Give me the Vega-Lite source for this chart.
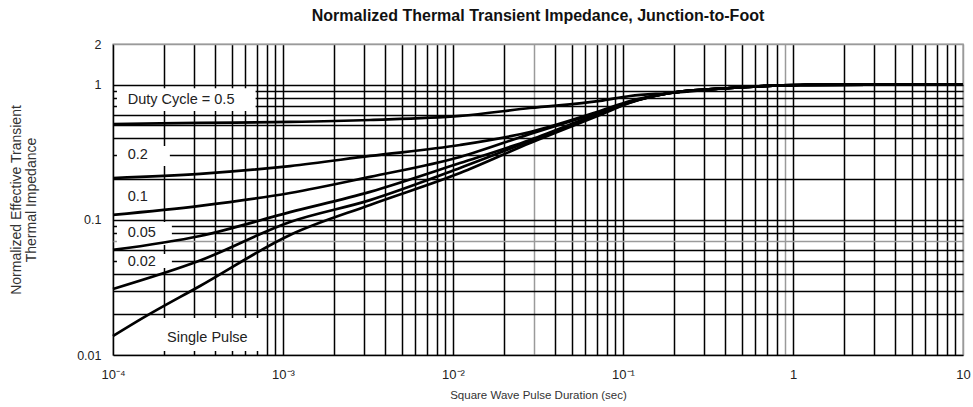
{
  "$schema": "https://vega.github.io/schema/vega-lite/v6.json",
  "width": 850,
  "height": 311,
  "autosize": "none",
  "padding": {"left": 113, "top": 44, "right": 10, "bottom": 52},
  "background": "white",
  "config": {
    "font": "Liberation Sans",
    "view": {"stroke": "#999999", "strokeWidth": 1.4},
    "axis": {
      "ticks": false,
      "domain": false,
      "grid": true,
      "gridWidth": 1.5,
      "gridOpacity": 1,
      "labelFont": "Liberation Sans",
      "labelFontSize": 12.5,
      "labelColor": "#222222",
      "labelOverlap": false,
      "labelBound": false,
      "labelFlush": false,
      "titleFont": "Liberation Sans",
      "titleFontWeight": "normal",
      "titleColor": "#333333"
    }
  },
  "title": {
    "text": "Normalized Thermal Transient Impedance, Junction-to-Foot",
    "fontSize": 16,
    "fontWeight": "bold",
    "font": "Liberation Sans",
    "color": "#111111",
    "anchor": "middle",
    "offset": 14
  },
  "datasets": {
    "curves": [
      {"s": "0.5", "x": 0.0001, "y": 0.512},
      {"s": "0.5", "x": 0.000325, "y": 0.521},
      {"s": "0.5", "x": 0.0011, "y": 0.53},
      {"s": "0.5", "x": 0.00325, "y": 0.548},
      {"s": "0.5", "x": 0.011, "y": 0.587},
      {"s": "0.5", "x": 0.0284, "y": 0.672},
      {"s": "0.5", "x": 0.0732, "y": 0.758},
      {"s": "0.5", "x": 0.11, "y": 0.825},
      {"s": "0.5", "x": 0.189, "y": 0.868},
      {"s": "0.5", "x": 0.426, "y": 0.945},
      {"s": "0.5", "x": 1.1, "y": 0.995},
      {"s": "0.5", "x": 2.84, "y": 1.0},
      {"s": "0.5", "x": 10, "y": 1.0},
      {"s": "0.2", "x": 0.0001, "y": 0.204},
      {"s": "0.2", "x": 0.000325, "y": 0.219},
      {"s": "0.2", "x": 0.0011, "y": 0.25},
      {"s": "0.2", "x": 0.00325, "y": 0.297},
      {"s": "0.2", "x": 0.011, "y": 0.358},
      {"s": "0.2", "x": 0.0284, "y": 0.447},
      {"s": "0.2", "x": 0.0732, "y": 0.639},
      {"s": "0.2", "x": 0.11, "y": 0.758},
      {"s": "0.2", "x": 0.189, "y": 0.868},
      {"s": "0.2", "x": 0.426, "y": 0.945},
      {"s": "0.2", "x": 1.1, "y": 0.995},
      {"s": "0.2", "x": 2.84, "y": 1.0},
      {"s": "0.2", "x": 10, "y": 1.0},
      {"s": "0.1", "x": 0.0001, "y": 0.109},
      {"s": "0.1", "x": 0.000325, "y": 0.127},
      {"s": "0.1", "x": 0.0011, "y": 0.158},
      {"s": "0.1", "x": 0.00325, "y": 0.208},
      {"s": "0.1", "x": 0.011, "y": 0.292},
      {"s": "0.1", "x": 0.0284, "y": 0.432},
      {"s": "0.1", "x": 0.0732, "y": 0.628},
      {"s": "0.1", "x": 0.11, "y": 0.745},
      {"s": "0.1", "x": 0.189, "y": 0.868},
      {"s": "0.1", "x": 0.426, "y": 0.945},
      {"s": "0.1", "x": 1.1, "y": 0.995},
      {"s": "0.1", "x": 2.84, "y": 1.0},
      {"s": "0.1", "x": 10, "y": 1.0},
      {"s": "0.05", "x": 0.0001, "y": 0.0599},
      {"s": "0.05", "x": 0.000325, "y": 0.076},
      {"s": "0.05", "x": 0.0011, "y": 0.114},
      {"s": "0.05", "x": 0.00325, "y": 0.161},
      {"s": "0.05", "x": 0.011, "y": 0.263},
      {"s": "0.05", "x": 0.0284, "y": 0.39},
      {"s": "0.05", "x": 0.0732, "y": 0.617},
      {"s": "0.05", "x": 0.11, "y": 0.745},
      {"s": "0.05", "x": 0.189, "y": 0.868},
      {"s": "0.05", "x": 0.426, "y": 0.945},
      {"s": "0.05", "x": 1.1, "y": 0.995},
      {"s": "0.05", "x": 2.84, "y": 1.0},
      {"s": "0.05", "x": 10, "y": 1.0},
      {"s": "0.02", "x": 0.0001, "y": 0.0308},
      {"s": "0.02", "x": 0.000325, "y": 0.05},
      {"s": "0.02", "x": 0.0011, "y": 0.0965},
      {"s": "0.02", "x": 0.00325, "y": 0.14},
      {"s": "0.02", "x": 0.011, "y": 0.242},
      {"s": "0.02", "x": 0.0284, "y": 0.383},
      {"s": "0.02", "x": 0.0732, "y": 0.607},
      {"s": "0.02", "x": 0.11, "y": 0.74},
      {"s": "0.02", "x": 0.189, "y": 0.868},
      {"s": "0.02", "x": 0.426, "y": 0.945},
      {"s": "0.02", "x": 1.1, "y": 0.995},
      {"s": "0.02", "x": 2.84, "y": 1.0},
      {"s": "0.02", "x": 10, "y": 1.0},
      {"s": "single", "x": 0.0001, "y": 0.0138},
      {"s": "single", "x": 0.00015, "y": 0.0188},
      {"s": "single", "x": 0.000325, "y": 0.0324},
      {"s": "single", "x": 0.0011, "y": 0.0773},
      {"s": "single", "x": 0.00325, "y": 0.129},
      {"s": "single", "x": 0.011, "y": 0.222},
      {"s": "single", "x": 0.0284, "y": 0.37},
      {"s": "single", "x": 0.0732, "y": 0.597},
      {"s": "single", "x": 0.11, "y": 0.735},
      {"s": "single", "x": 0.189, "y": 0.868},
      {"s": "single", "x": 0.426, "y": 0.945},
      {"s": "single", "x": 1.1, "y": 0.995},
      {"s": "single", "x": 2.84, "y": 1.0},
      {"s": "single", "x": 10, "y": 1.0}
    ],
    "boxes": [
      {"x": 0.0001055, "x2": 0.00069, "y": 0.64, "y2": 0.94},
      {"x": 0.0001055, "x2": 0.000216, "y": 0.25, "y2": 0.352},
      {"x": 0.0001055, "x2": 0.000222, "y": 0.0652, "y2": 0.0965},
      {"x": 0.0001055, "x2": 0.000222, "y": 0.044, "y2": 0.056},
      {"x": 0.000165, "x2": 0.00075, "y": 0.0107, "y2": 0.0188}
    ],
    "labels": [
      {"x": 0.000122, "y": 0.77, "label": "Duty Cycle = 0.5"},
      {"x": 0.000122, "y": 0.3, "label": "0.2"},
      {"x": 0.000122, "y": 0.148, "label": "0.1"},
      {"x": 0.000122, "y": 0.0804, "label": "0.05"},
      {"x": 0.000122, "y": 0.0491, "label": "0.02"},
      {"x": 0.000208, "y": 0.01345, "label": "Single Pulse"}
    ]
  },
  "encoding": {
    "x": {
      "field": "x",
      "type": "quantitative",
      "scale": {"type": "log", "domain": [0.0001, 10], "nice": false},
      "axis": {
        "title": "Square Wave Pulse Duration (sec)",
        "titleFontSize": 11.5,
        "labelFontSize": 13,
        "values": [0.0001,0.0002,0.0003,0.0004,0.0005,0.0006,0.0007,0.0008,0.0009,0.001,0.002,0.003,0.004,0.005,0.006,0.007,0.008,0.009,0.01,0.02,0.03,0.04,0.05,0.06,0.07,0.08,0.09,0.1,0.2,0.3,0.4,0.5,0.6,0.7,0.8,0.9,1,2,3,4,5,6,7,8,9,10],
        "labelExpr": "datum.value == 0.0001 ? '10⁻⁴' : datum.value == 0.001 ? '10⁻³' : datum.value == 0.01 ? '10⁻²' : datum.value == 0.1 ? '10⁻¹' : datum.value == 1 ? '1' : datum.value == 10 ? '10' : ''",
        "labelPadding": 13,
        "titlePadding": 8,
        "gridColor": {"condition": {"test": "datum.value >= 10 || datum.value == 0.03 || datum.value == 0.9", "value": "#9a9a9a"}, "value": "#000000"}
      }
    },
    "y": {
      "field": "y",
      "type": "quantitative",
      "scale": {"type": "log", "domain": [0.01, 2], "nice": false},
      "axis": {
        "title": ["Normalized Effective Transient", "Thermal Impedance"],
        "titleFontSize": 14,
        "titleLineHeight": 15,
        "values": [0.01,0.02,0.03,0.04,0.05,0.06,0.07,0.08,0.09,0.1,0.2,0.3,0.4,0.5,0.6,0.7,0.8,0.9,1,2],
        "labelExpr": "datum.value == 2 ? '2' : datum.value == 1 ? '1' : datum.value == 0.1 ? '0.1' : datum.value == 0.01 ? '0.01' : ''",
        "labelPadding": 12,
        "titlePadding": 38,
        "gridColor": {"condition": {"test": "datum.value >= 2 || datum.value == 0.07", "value": "#9a9a9a"}, "value": "#000000"}
      }
    }
  },
  "layer": [
    {
      "data": {"name": "boxes"},
      "mark": {"type": "rect", "fill": "white", "stroke": null},
      "encoding": {
        "x2": {"field": "x2"},
        "y2": {"field": "y2"}
      }
    },
    {
      "data": {"name": "curves"},
      "mark": {"type": "line", "color": "black", "strokeWidth": 2.7, "interpolate": "monotone"},
      "encoding": {
        "detail": {"field": "s", "type": "nominal"},
        "order": {"field": "x", "type": "quantitative"}
      }
    },
    {
      "data": {"name": "labels"},
      "mark": {"type": "text", "align": "left", "baseline": "middle", "fontSize": 14.5, "font": "Liberation Sans", "color": "#222222"},
      "encoding": {
        "text": {"field": "label", "type": "nominal"}
      }
    }
  ]
}
